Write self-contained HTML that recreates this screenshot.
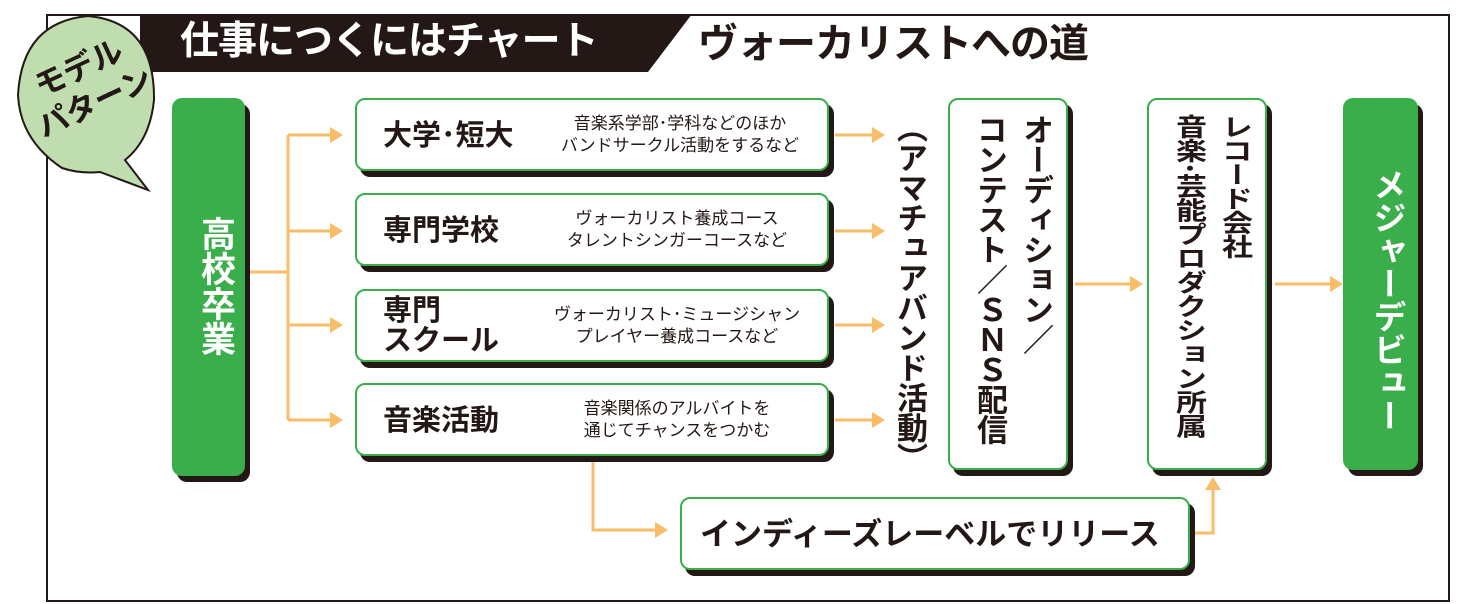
<!DOCTYPE html>
<html><head><meta charset="utf-8"><style>
body{margin:0;width:1459px;height:604px;background:#fff;position:relative;overflow:hidden;font-family:"Liberation Sans","Noto Sans CJK JP",sans-serif;color:#231815}
.a{position:absolute}
.box{position:absolute;background:#fff;border:2px solid #3aae4a;border-radius:10px;box-shadow:5px 6px 0 #231815;box-sizing:border-box}
.g{position:absolute;background:#3aae4a;border-radius:10px;box-shadow:5px 6px 0 #231815;color:#fff}
.t{position:absolute;font-weight:bold;font-size:29px;line-height:30px}
.d{position:absolute;font-size:17px;line-height:22px;text-align:center;width:270px}
.v{writing-mode:vertical-rl;font-weight:bold;position:absolute}
</style></head><body>
<div class="a" style="left:46px;top:14px;width:1404px;height:588px;border:2px solid #231815;box-sizing:border-box"></div>
<svg class="a" style="left:0;top:0" width="1459" height="604">
<polygon points="140,14 692,14 648,72 140,72" fill="#231815"/>
<path d="M62,168 Q20,140 18,95 Q22,22 88,16 Q155,22 154,100 Q150,140 125,160 L148,190 L100,172 Q80,174 62,168Z" fill="#c0ddb0" stroke="#231815" stroke-width="2"/>
<g stroke="#f8bd66" stroke-width="3" fill="none">
<path d="M245,272 H288 M288,135 V420 M288,135 H330 M288,231 H330 M288,325 H330 M288,420 H330"/>
<path d="M835,135 H872 M835,231 H872 M835,325 H872 M835,420 H872"/>
<path d="M1075,284 H1130 M1275,284 H1330"/>
<path d="M593,462 V530 H655 M1190,533 H1213 V488"/>
</g>
<g fill="#f8bd66">
<polygon points="330,127 343,135 330,143"/><polygon points="330,223 343,231 330,239"/><polygon points="330,317 343,325 330,333"/><polygon points="330,412 343,420 330,428"/>
<polygon points="872,127 885,135 872,143"/><polygon points="872,223 885,231 872,239"/><polygon points="872,317 885,325 872,333"/><polygon points="872,412 885,420 872,428"/>
<polygon points="1130,276 1143,284 1130,292"/><polygon points="1330,276 1343,284 1330,292"/>
<polygon points="655,522 668,530 655,538"/><polygon points="1205,490 1213,477 1221,490"/>
</g>
</svg>
<div class="a" style="left:180px;top:17px;color:#fff;font-weight:bold;font-size:39px;line-height:50px;letter-spacing:-1px">仕事につくにはチャート</div>
<div class="a" style="left:698px;top:19px;font-weight:bold;font-size:40px;line-height:50px;letter-spacing:-1px">ヴォーカリストへの道</div>
<div class="a" style="left:22px;top:48px;font-weight:bold;font-size:31px;line-height:38px;transform:rotate(-25deg);text-align:center;width:130px">モデル<br>パターン</div>
<div class="g" style="left:172px;top:98px;width:73px;height:378px"><div class="v" style="left:18px;top:118px;font-size:35px">高校卒業</div></div>
<div class="box" style="left:355px;top:98px;width:474px;height:73px"><div class="t" style="left:26px;top:21px">大学･短大</div><div class="d" style="left:188px;top:13px">音楽系学部･学科などのほか<br>バンドサークル活動をするなど</div></div>
<div class="box" style="left:355px;top:193px;width:474px;height:73px"><div class="t" style="left:26px;top:21px">専門学校</div><div class="d" style="left:185px;top:13px">ヴォーカリスト養成コース<br>タレントシンガーコースなど</div></div>
<div class="box" style="left:355px;top:289px;width:474px;height:73px"><div class="t" style="left:26px;top:5px">専門<br>スクール</div><div class="d" style="left:185px;top:13px">ヴォーカリスト･ミュージシャン<br>プレイヤー養成コースなど</div></div>
<div class="box" style="left:355px;top:383px;width:474px;height:73px"><div class="t" style="left:26px;top:21px">音楽活動</div><div class="d" style="left:185px;top:13px">音楽関係のアルバイトを<br>通じてチャンスをつかむ</div></div>
<div class="v" style="left:892px;top:112px;font-size:31px;line-height:34px;letter-spacing:-1px">（アマチュアバンド活動）</div>
<div class="box" style="left:948px;top:98px;width:120px;height:372px"><div class="v" style="left:12px;top:14px;font-size:31px;line-height:46px;width:96px;height:350px;letter-spacing:-1px">オーディション／<br>コンテスト／ＳＮＳ配信</div></div>
<div class="box" style="left:1147px;top:98px;width:120px;height:372px"><div class="v" style="left:12px;top:14px;font-size:31px;line-height:46px;width:96px;height:430px;letter-spacing:-1px;transform:scaleY(0.8);transform-origin:top left">レコード会社<br>音楽･芸能プロダクション所属</div></div>
<div class="g" style="left:1343px;top:98px;width:75px;height:372px"><div class="v" style="left:20px;top:70px;font-size:33px">メジャーデビュー</div></div>
<div class="box" style="left:680px;top:497px;width:510px;height:73px"><div class="t" style="left:18px;top:20px;font-size:31px;line-height:32px">インディーズレーベルでリリース</div></div>
</body></html>
